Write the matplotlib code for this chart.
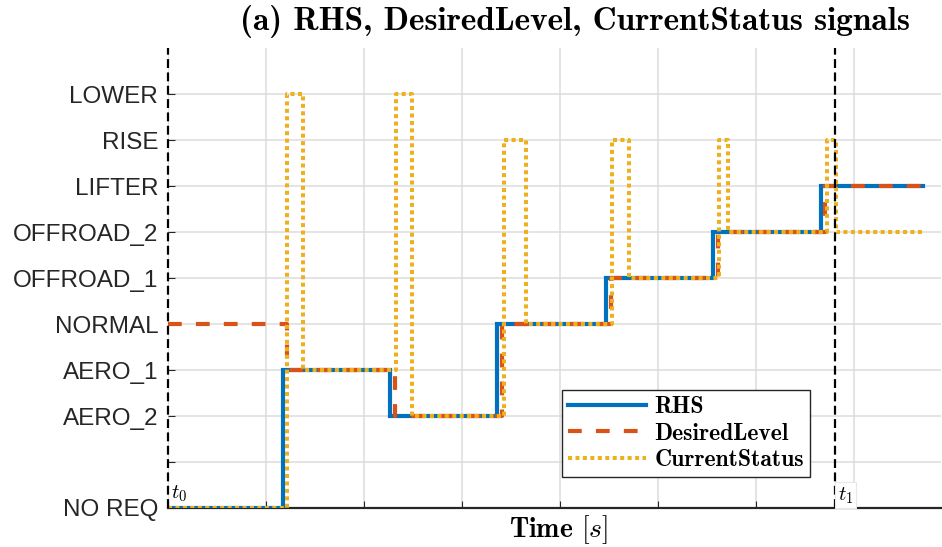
import numpy as np
import matplotlib.pyplot as plt

# level names (y axis), level 1 has no label
levels = ['NO REQ', '', 'AERO_2', 'AERO_1', 'NORMAL', 'OFFROAD_1', 'OFFROAD_2', 'LIFTER', 'RISE', 'LOWER']

# step signals: switching times and the level held from that time on
rhs_t = [0, 1.17, 2.27, 3.36, 4.47, 5.56, 6.66, 7.71]
rhs_v = [0, 3, 2, 4, 5, 6, 7, 7]

desired_t = [0, 1.22, 2.32, 3.41, 4.52, 5.61, 6.71, 7.71]
desired_v = [4, 3, 2, 4, 5, 6, 7, 7]

status_t = [0, 1.22, 1.38, 2.33, 2.49, 3.43, 3.65, 4.53, 4.71, 5.62, 5.72, 6.73, 6.82, 7.71]
status_v = [0, 9, 3, 9, 2, 8, 4, 8, 5, 8, 6, 8, 6, 6]

t0 = 0.0
t1 = 6.81

plt.rcParams['mathtext.fontset'] = 'cm'
plt.rcParams['axes.unicode_minus'] = False

fig = plt.figure(figsize=(9.42, 5.47), dpi=100)
ax = fig.add_axes([0.1783, 0.0713, 0.8207, 0.8409])

ax.plot(rhs_t, rhs_v, drawstyle='steps-post', color='#0072BD', lw=3.0,
        label='RHS', solid_joinstyle='miter', zorder=3)
ax.plot(desired_t, desired_v, drawstyle='steps-post', color='#D95319', lw=3.0,
        dashes=(3.3, 3.4), label='DesiredLevel', zorder=4)
ax.plot(status_t, status_v, drawstyle='steps-post', color='#EDB120', lw=2.9,
        dashes=(1.0, 0.85), label='CurrentStatus', zorder=5)

# t0 / t1 markers
ax.axvline(t0, color='black', lw=1.6, dashes=(4, 2), zorder=6, clip_on=False)
ax.axvline(t1, color='black', lw=1.6, dashes=(4, 2), zorder=6)
ax.text(t0 + 0.03, 0.08, r'$t_0$', fontsize=15, va='bottom', ha='left', zorder=7)
ax.text(t1 + 0.03, 0.05, r'$t_1$', fontsize=15, va='bottom', ha='left', zorder=7,
        bbox=dict(facecolor='white', edgecolor='#e8e8e8', pad=2, lw=0.8))

ax.set_xlim(0, 7.89)
ax.set_ylim(0, 10)
ax.set_yticks(range(len(levels)))
ax.set_yticklabels(levels, fontsize=17.5, family='Liberation Sans', color='#262626')
ax.set_xticks(np.arange(0, 8))
ax.set_xticklabels([])
ax.tick_params(axis='y', direction='in', length=5, width=0.8, color='#262626', pad=7)
ax.tick_params(axis='x', direction='in', length=5, width=0.8, color='#262626')
ax.grid(True, color='#dcdcdc', lw=1.1)
ax.set_axisbelow(True)

for s in ['top', 'right', 'left']:
    ax.spines[s].set_visible(False)
ax.spines['bottom'].set_linewidth(1.6)
ax.spines['bottom'].set_color('#262626')

leg = ax.legend(loc='upper left', bbox_to_anchor=(0.51, 0.2565), frameon=True,
                fancybox=False, framealpha=1, edgecolor='#262626',
                prop={'family': 'cmb10', 'size': 17}, handlelength=3.3,
                borderpad=0.25, labelspacing=0.2, handletextpad=0.35,
                borderaxespad=0)
leg.get_frame().set_linewidth(1.0)

fig.text(575 / 942, 1 - 22 / 547, '(a) RHS, DesiredLevel, CurrentStatus signals',
         family='cmb10', fontsize=24, ha='center', va='center')
fig.text(559 / 942, 1 - 530 / 547, r'Time $[s]$', family='cmb10', fontsize=20,
         ha='center', va='center')

fig.savefig('out.png', dpi=100)
